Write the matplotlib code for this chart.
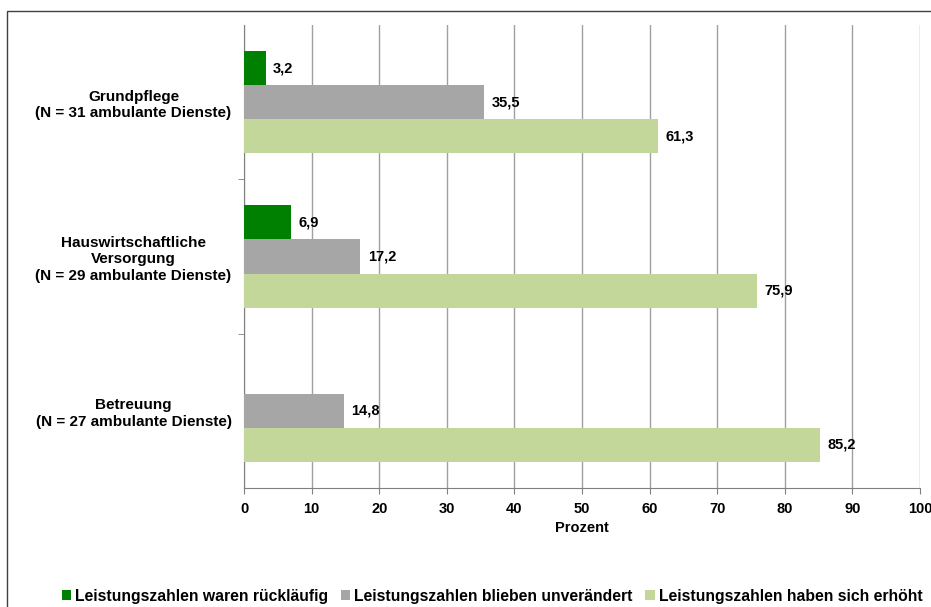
import matplotlib
matplotlib.use("Agg")
import matplotlib.pyplot as plt
from matplotlib.patches import Rectangle
import numpy as np

plt.rcParams['font.family'] = ['Liberation Sans', 'DejaVu Sans']

categories = ["Grundpflege\n(N = 31 ambulante Dienste)",
              "Hauswirtschaftliche\nVersorgung\n(N = 29 ambulante Dienste)",
              "Betreuung\n(N = 27 ambulante Dienste)"]
series_names = ["Leistungszahlen waren rückläufig",
                "Leistungszahlen blieben unverändert",
                "Leistungszahlen haben sich erhöht"]
ruecklaeufig = [3.2, 6.9, 0.0]
unveraendert = [35.5, 17.2, 14.8]
erhoeht = [61.3, 75.9, 85.2]
colors = ["#008000", "#A6A6A6", "#C4D79B"]
xticks = [0, 10, 20, 30, 40, 50, 60, 70, 80, 90, 100]

fig = plt.figure(figsize=(9.31, 6.07), dpi=100)
ax = fig.add_axes([244/931, 1-488/607, (920-244)/931, (488-25)/607])

# figure border
fig.patches.append(Rectangle((7/931, -0.1), 1.2, 1-11/607+0.1, transform=fig.transFigure,
                             fill=False, edgecolor="#404040", linewidth=1.0))

y = np.arange(len(categories))
h = 34/154
series = [ruecklaeufig, unveraendert, erhoeht]
offsets = [-h, 0, h]
for vals, off, col, name in zip(series, offsets, colors, series_names):
    bars = ax.barh(y + off, vals, height=h, color=col, label=name, zorder=3)
    for v, yy in zip(vals, y + off):
        if v > 0:
            ax.text(v + 1.1, yy, f"{v:.1f}".replace(".", ","), va="center", ha="left",
                    fontsize=10.5, fontweight="bold", zorder=4)

ax.set_xlim(0, 100)
ax.set_ylim(2.5, -0.5)
ax.set_xticks(xticks)
ax.set_xticklabels([str(t) for t in xticks], fontsize=10.5, fontweight="bold")
ax.set_yticks(y)
ax.set_yticklabels(categories, fontsize=11, fontweight="bold", multialignment="center",
                   linespacing=1.25)
ax.set_yticks([0.5, 1.5], minor=True)
ax.tick_params(axis="y", which="major", length=0, pad=9)
ax.tick_params(axis="y", which="minor", length=4, color="#808080")
ax.tick_params(axis="x", length=4, color="#808080", pad=6)
ax.grid(axis="x", color="#A0A0A0", linewidth=1.0, zorder=0)
ax.set_axisbelow(True)
for s in ["top", "right"]:
    ax.spines[s].set_visible(False)
for s in ["left", "bottom"]:
    ax.spines[s].set_color("#808080")
ax.set_xlabel("Prozent", fontsize=10.5, fontweight="bold", labelpad=4)

fig.legend(loc="center", bbox_to_anchor=(492/931, 1-596/607), ncol=3, frameon=False,
           prop={"size": 11.3, "weight": "bold"}, handlelength=0.6, handleheight=0.6,
           handletextpad=0.25, columnspacing=0.8)

fig.savefig("out.png", dpi=100)
